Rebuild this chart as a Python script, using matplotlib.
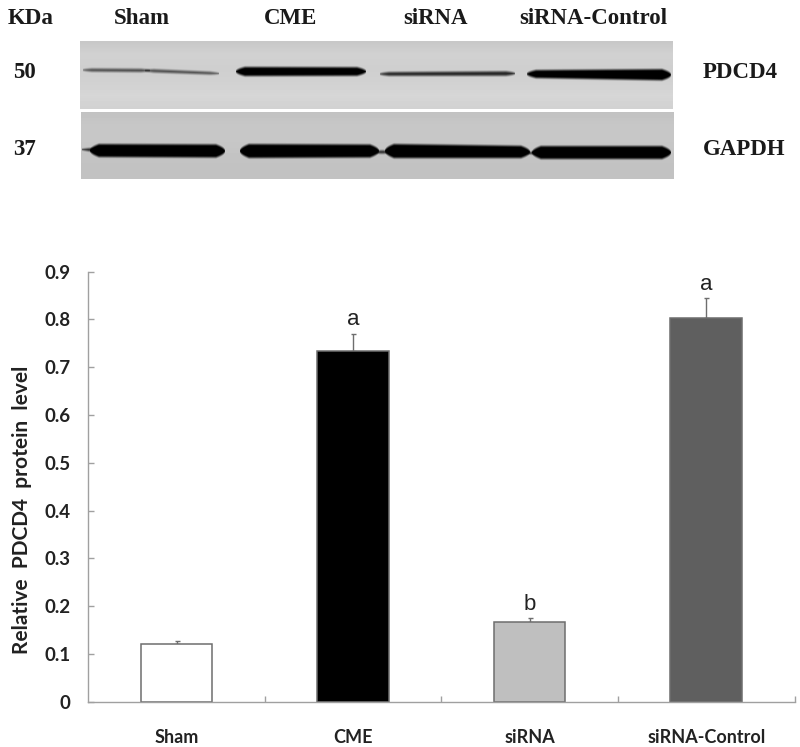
import numpy as np
import matplotlib
matplotlib.use("Agg")
import matplotlib.pyplot as plt

# ---- data ----
groups = ["Sham", "CME", "siRNA", "siRNA-Control"]
values = [0.12, 0.733, 0.167, 0.803]
errors = [0.007, 0.037, 0.008, 0.041]
bar_colors = ["#ffffff", "#000000", "#bfbfbf", "#5f5f5f"]
letters = ["", "a", "b", "a"]
y_ticks = [0, 0.1, 0.2, 0.3, 0.4, 0.5, 0.6, 0.7, 0.8, 0.9]
y_labels = ["0", "0.1", "0.2", "0.3", "0.4", "0.5", "0.6", "0.7", "0.8", "0.9"]

# western blot lanes: x start, x end, y centre left, y centre right,
# half thickness left, half thickness right, darkness
pdcd4_lanes = [
    (83, 150, 70.0, 70.5, 1.5, 1.6, 0.62),
    (145, 219, 70.5, 73.5, 1.6, 1.3, 0.62),
    (236, 366, 71.5, 71.5, 4.5, 4.2, 1.0),
    (380, 515, 74.0, 73.5, 1.8, 2.2, 0.80),
    (527, 671, 74.0, 74.8, 3.8, 5.6, 1.0),
]
gapdh_lanes = [
    (82, 98, 149.5, 150.0, 1.2, 2.0, 0.85),
    (90, 225, 150.5, 151.0, 6.4, 6.5, 1.0),
    (240, 379, 151.0, 151.0, 6.9, 6.4, 1.0),
    (372, 392, 152.0, 152.0, 1.5, 1.5, 0.8),
    (385, 530, 151.0, 152.0, 7.0, 6.0, 1.0),
    (526, 540, 153.0, 153.0, 1.5, 1.5, 0.8),
    (532, 671, 152.5, 152.5, 6.4, 6.4, 1.0),
]
blot_header_x = [141.5, 291, 436, 593]
top_panel_shade = [0.78, 0.82, 0.81, 0.82, 0.84, 0.82]
low_panel_shade = [0.76, 0.78, 0.78, 0.77, 0.76, 0.76]


def render_panel(x0, x1, y0, y1, shade, lanes):
    xs = np.arange(x0, x1) + 0.5
    ys = np.arange(y0, y1) + 0.5
    X, Y = np.meshgrid(xs, ys)
    stops = np.linspace(y0, y1, len(shade))
    img = np.interp(Y, stops, shade)
    for a, b, c0, c1, h0, h1, dark in lanes:
        t = np.clip((X - a) / (b - a), 0, 1)
        half = h0 + (h1 - h0) * t
        centre = c0 + (c1 - c0) * t
        ends = np.clip((X - a) / 9, 0, 1) * np.clip((b - X) / 9, 0, 1)
        half = half * np.sqrt(ends)
        m = np.clip((half + 2.0 - np.abs(Y - centre)) / 4.0, 0, 1)
        m = m * m * (3 - 2 * m) * (ends > 0)
        img = img * (1 - dark * m)
    return img


fig = plt.figure(figsize=(8.0, 7.47), dpi=100)
W, H = 800, 747

# blot and its labels, laid out in picture pixels
bg = fig.add_axes([0, 0, 1, 1])
bg.axis("off")
for (x0, x1, y0, y1, shade, lanes) in [
    (80, 673, 41, 109, top_panel_shade, pdcd4_lanes),
    (81, 674, 112, 179, low_panel_shade, gapdh_lanes),
]:
    bg.imshow(render_panel(x0, x1, y0, y1, shade, lanes), cmap="gray", vmin=0, vmax=1,
              extent=(x0, x1, y1, y0), aspect="auto", interpolation="bilinear")
bg.set_xlim(0, W)
bg.set_ylim(H, 0)

serif = dict(family="Liberation Serif", fontweight="bold", color="#1a1a1a", fontsize=16.5)
bg.text(8, 18, "KDa", va="center", ha="left", **serif)
for name, x in zip(groups, blot_header_x):
    bg.text(x, 18, name, va="center", ha="center", **serif)
bg.text(24, 73, "50", va="center", ha="center", **serif)
bg.text(24, 149.5, "37", va="center", ha="center", **serif)
bg.text(703, 72.5, "PDCD4", va="center", ha="left", **serif)
bg.text(703, 149.5, "GAPDH", va="center", ha="left", **serif)

# bar chart
left, right, top, bottom = 88.3, 794.5, 271.7, 701.7
ax = fig.add_axes([left / W, 1 - bottom / H, (right - left) / W, (bottom - top) / H])
ax.patch.set_alpha(0)
xpos = np.arange(len(groups)) + 0.5
ax.bar(xpos, values, width=0.405, color=bar_colors, edgecolor="#6e6e6e", linewidth=1.1, zorder=2)
ax.errorbar(xpos, values, yerr=[np.zeros(len(errors)), errors], fmt="none", ecolor="#6e6e6e",
            elinewidth=1.0, capsize=1.8, capthick=1.0, zorder=1)
for x, v, e, s in zip(xpos, values, errors, letters):
    ax.annotate(s, (x, v + e), xytext=(0, 6), textcoords="offset points", ha="center", va="baseline",
                family="Liberation Sans", fontsize=16, color="#222222")

ax.set_xlim(0, len(groups))
ax.set_ylim(0, 0.9)
for s in ("top", "right"):
    ax.spines[s].set_visible(False)
for s in ("left", "bottom"):
    ax.spines[s].set_color("#a0a0a0")
    ax.spines[s].set_linewidth(1.0)
ax.set_yticks(y_ticks)
ax.set_yticklabels(y_labels, family="Lato", fontweight="bold", fontsize=13.5, color="#222222")
ax.tick_params(axis="y", direction="in", length=4.5, width=1, color="#a0a0a0", pad=13)
ax.set_xticks(np.arange(1, len(groups) + 1))
ax.set_xticklabels([])
ax.tick_params(axis="x", which="major", direction="in", length=4.5, width=1, color="#a0a0a0")
ax.set_xticks(xpos, minor=True)
ax.set_xticklabels(groups, minor=True, family="Lato", fontweight="bold", fontsize=13, color="#222222")
ax.tick_params(axis="x", which="minor", length=0, pad=19.5)
ax.set_ylabel("Relative  PDCD4  protein  level", family="Lato", fontweight="bold",
              fontsize=15, color="#222222")
ax.yaxis.set_label_coords((32 - left) / (right - left), (bottom - 510) / (bottom - top))

fig.savefig("out.png", dpi=100)
